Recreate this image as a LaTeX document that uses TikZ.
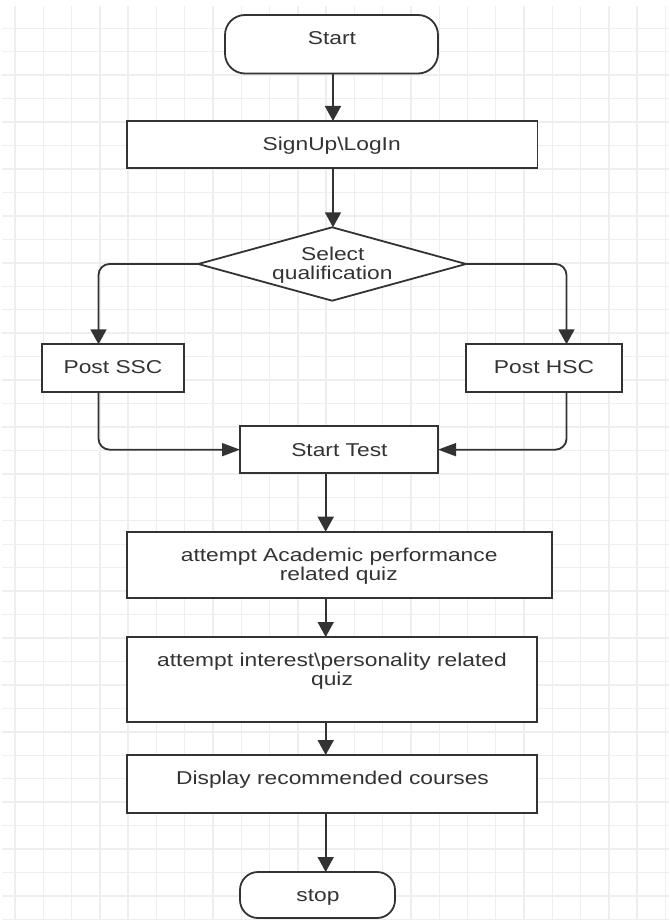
\documentclass[tikz,border=0pt]{standalone}
\usepackage{fontspec}
\setmainfont[FakeStretch=1.225]{Liberation Sans}
\usetikzlibrary{arrows.meta,shapes.geometric}
\definecolor{gridc}{RGB}{238,238,238}
\definecolor{linec}{RGB}{51,51,51}
\definecolor{textc}{RGB}{51,51,51}
\begin{document}
\begin{tikzpicture}[x=1pt,y=-1pt,
  gridline/.style={draw=gridc, line width=1.4pt},
  shapebox/.style={draw=linec, line width=1.8pt, fill=white, inner sep=0pt, outer sep=0pt},
  procbox/.style={shapebox, rectangle},
  termbox/.style={shapebox, rectangle},
  decbox/.style={shapebox, diamond},
  lbl/.style={anchor=base, inner sep=0pt, text=textc, font=\fontsize{18.6}{22}\selectfont},
  conn/.style={draw=linec, line width=1.8pt, rounded corners=11pt},
  vtip/.style={-{Triangle[length=15pt,width=16pt]}},
  htip/.style={-{Triangle[length=18pt,width=13pt]}}
]
\useasboundingbox (0,0) rectangle (669,920);
\fill[white] (0,0) rectangle (669,920);
% grid
\foreach \k in {0,...,23} \draw[gridline] ({15+28.28*\k},6) -- ({15+28.28*\k},920);
\foreach \k in {0,...,38} \draw[gridline] (2,{28.3+23.45*\k}) -- (669,{28.3+23.45*\k});

% column coordinates
\coordinate (mx) at (333,0);
\coordinate (lx) at (98.5,0);
\coordinate (rx) at (566.5,0);
\coordinate (cx) at (325.7,0);

% shapes
\node[termbox, rounded corners=20pt, minimum width=213pt, minimum height=58.5pt] (start) at (331.5,44.25) {};
\node[procbox, minimum width=410.5pt, minimum height=47pt] (signup) at (332.25,144.5) {};
\node[decbox, minimum width=267.7pt, minimum height=73.4pt] (sel) at (332.15,264) {};
\node[procbox, minimum width=142pt, minimum height=47.7pt] (pssc) at (113,368.15) {};
\node[procbox, minimum width=155.6pt, minimum height=47.7pt] (phsc) at (543.8,368.15) {};
\node[procbox, minimum width=198pt, minimum height=47.3pt] (stest) at (339,449.65) {};
\node[procbox, minimum width=425pt, minimum height=66pt] (acad) at (339.2,564.7) {};
\node[procbox, minimum width=410pt, minimum height=85pt] (inter) at (332,679.5) {};
\node[procbox, minimum width=410pt, minimum height=58pt] (disp) at (332,784) {};
\node[termbox, rounded corners=18pt, minimum width=155pt, minimum height=46pt] (stop) at (317.5,895) {};

% labels
\node[lbl] (tstart) at (332,45) {Start};
\node[lbl] (tsignup) at (331.7,151) {SignUp\textbackslash LogIn};
\node[lbl] (tsel1) at (332.8,260.7) {Select};
\node[lbl] (tsel2) at (332.4,279.3) {qualification};
\node[lbl] (tpssc) at (113,373.8) {Post SSC};
\node[lbl] (tphsc) at (544,373.8) {Post HSC};
\node[lbl] (tstest) at (339.4,456.3) {Start Test};
\node[lbl] (tacad1) at (339.2,561.7) {attempt Academic performance};
\node[lbl] (tacad2) at (338.8,580.3) {related quiz};
\node[lbl] (tinter1) at (332,666.7) {attempt interest\textbackslash personality related};
\node[lbl] (tinter2) at (332,685.2) {quiz};
\node[lbl] (tdisp) at (332.5,784) {Display recommended courses};
\node[lbl] (tstop) at (318,901.5) {stop};

% connectors
\draw[conn, vtip] (start.south -| mx) -- (signup.north -| mx);
\draw[conn, vtip] (signup.south -| mx) -- (sel.north -| mx);
\draw[conn, vtip] (sel.west) -| (pssc.north -| lx);
\draw[conn, vtip] (sel.east) -| (phsc.north -| rx);
\draw[conn, htip] (pssc.south -| lx) |- (stest.west);
\draw[conn, htip] (phsc.south -| rx) |- (stest.east);
\draw[conn, vtip] (stest.south -| cx) -- (acad.north -| cx);
\draw[conn, vtip] (acad.south -| cx) -- (inter.north -| cx);
\draw[conn, vtip] (inter.south -| cx) -- (disp.north -| cx);
\draw[conn, vtip] (disp.south -| cx) -- (stop.north -| cx);
\end{tikzpicture}
\end{document}
